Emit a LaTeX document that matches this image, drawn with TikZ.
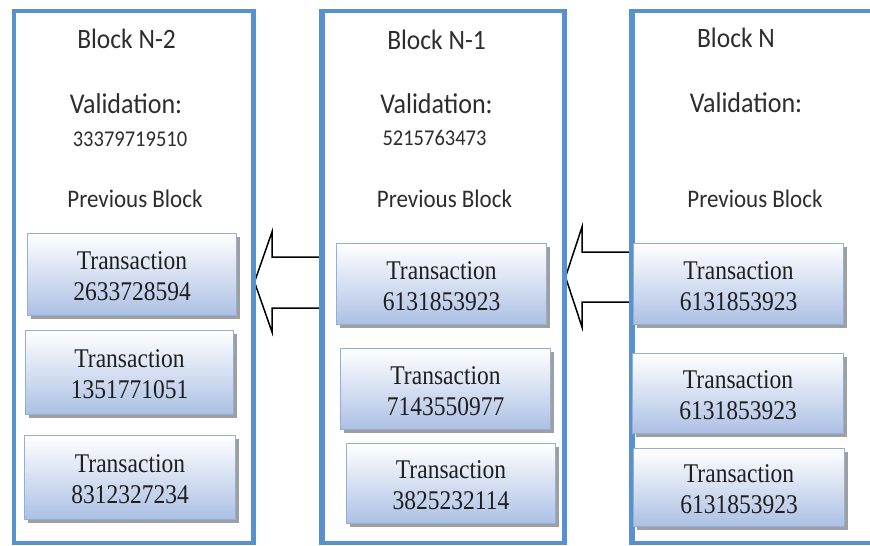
\documentclass[tikz,border=0pt]{standalone}
\usepackage{fontspec}
\setmainfont{Carlito}
\newfontfamily\serifface{Liberation Serif}
\usetikzlibrary{shadows}
\definecolor{blockblue}{RGB}{88,145,205}
\definecolor{txborder}{RGB}{145,175,218}
\definecolor{txbottom}{RGB}{172,192,228}
\definecolor{txtgray}{RGB}{45,45,45}
\newcommand{\txlines}[1]{\raisebox{0pt}[\dimexpr\height+9pt\relax]{\scalebox{1}[1.15]{\begin{tabular}{@{}c@{}}Transaction\\#1\end{tabular}}}}
\newcommand{\vstr}[1]{\scalebox{1}[1.1]{#1}}
\tikzset{
  blockbox/.style={draw=blockblue, line width=3.5pt, fill=white, anchor=north west, inner sep=0pt},
  txbox/.style={draw=txborder, line width=1pt, top color=white, bottom color=txbottom,
    drop shadow={shadow xshift=3pt, shadow yshift=-3pt, fill=black!50, opacity=0.75},
    anchor=north west, inner sep=0pt, align=center,
    font=\serifface\fontsize{23.5}{27}\selectfont, text=black!88},
  titletext/.style={font=\fontsize{25.5}{30}\selectfont, text=txtgray},
  valtext/.style={font=\fontsize{26}{30}\selectfont, text=txtgray},
  numtext/.style={font=\fontsize{20.5}{24}\selectfont, text=txtgray},
  prevtext/.style={font=\fontsize{23}{27}\selectfont, text=txtgray},
  blockarrow/.style={draw=black, line width=1.5pt, fill=white, line join=miter}
}
\begin{document}
\begin{tikzpicture}[x=1pt,y=-1pt]
\useasboundingbox (0,0) rectangle (870,546);
% blocks
\node[blockbox, minimum width=239pt, minimum height=532pt] (b1) at (12,9) {};
\node[blockbox, minimum width=241pt, minimum height=532pt] (b2) at (321,9) {};
\node[blockbox, minimum width=242pt, minimum height=532pt] (b3) at (631,9) {};
% arrows
\draw[blockarrow] (b2.west |- 0,257) -- (272,257) -- (272,232) -- (b1.east |- 0,282) -- (272,332) -- (272,308) -- (b2.west |- 0,308);
\draw[blockarrow] (b3.west |- 0,252) -- (582,252) -- (582,227) -- (b2.east |- 0,277) -- (582,327) -- (582,302) -- (b3.west |- 0,302);
% redraw borders on top of arrow ends
\draw[draw=blockblue, line width=3.5pt] (b1.north east) -- (b1.south east);
\draw[draw=blockblue, line width=3.5pt] (b2.north west) -- (b2.south west);
\draw[draw=blockblue, line width=3.5pt] (b2.north east) -- (b2.south east);
\draw[draw=blockblue, line width=3.5pt] (b3.north west) -- (b3.south west);
% headers block 1
\node[titletext] (t1) at (126.5,39) {\vstr{Block N-2}};
\node[valtext] (v1) at (126,104) {\vstr{Validation:}};
\node[numtext] (n1) at (130,139) {\vstr{33379719510}};
\node[prevtext] (p1) at (135,199) {\vstr{Previous Block}};
% headers block 2
\node[titletext] (t2) at (436.5,40) {\vstr{Block N-1}};
\node[valtext] (v2) at (436.5,104) {\vstr{Validation:}};
\node[numtext] (n2) at (434.5,138) {\vstr{5215763473}};
\node[prevtext] (p2) at (444.5,199) {\vstr{Previous Block}};
% headers block 3
\node[titletext] (t3) at (736,38) {\vstr{Block N}};
\node[valtext] (v3) at (746,103) {\vstr{Validation:}};
\node[prevtext] (p3) at (755,199) {\vstr{Previous Block}};
% transactions block 1
\node[txbox, minimum width=209pt, minimum height=82pt] (x11) at (27,233) {\txlines{2633728594}};
\node[txbox, minimum width=208pt, minimum height=84pt] (x12) at (25,330) {\txlines{1351771051}};
\node[txbox, minimum width=211pt, minimum height=84pt] (x13) at (24,435) {\txlines{8312327234}};
% transactions block 2
\node[txbox, minimum width=210pt, minimum height=81pt] (x21) at (336,243) {\txlines{6131853923}};
\node[txbox, minimum width=210pt, minimum height=81pt] (x22) at (340,348) {\txlines{7143550977}};
\node[txbox, minimum width=209pt, minimum height=80pt] (x23) at (346,443) {\txlines{3825232114}};
% transactions block 3
\node[txbox, minimum width=210pt, minimum height=81pt] (x31) at (633,243) {\txlines{6131853923}};
\node[txbox, minimum width=211pt, minimum height=80pt] (x32) at (632,353) {\txlines{6131853923}};
\node[txbox, minimum width=211pt, minimum height=78pt] (x33) at (633,448) {\txlines{6131853923}};
\end{tikzpicture}
\end{document}
